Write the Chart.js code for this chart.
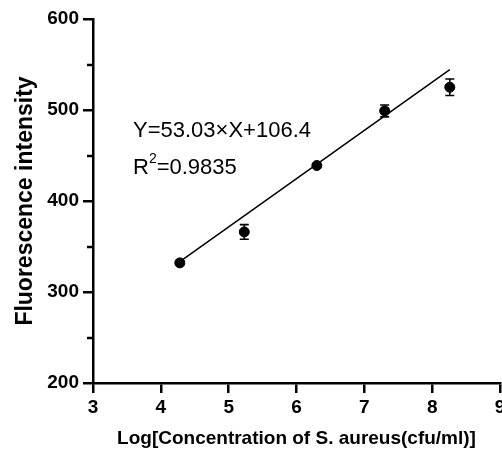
<!DOCTYPE html>
<html>
<head>
<meta charset="utf-8">
<script src="https://cdn.jsdelivr.net/npm/chart.js@4.4.1/dist/chart.umd.min.js"></script>
<style>
  html, body { margin: 0; padding: 0; background: #fff; overflow: hidden; }
  #wrap { width: 530px; height: 454px; }
</style>
</head>
<body>
<div id="wrap"><canvas id="myChart" width="530" height="454"></canvas></div>
<script>
// log concentration vs fluorescence, mean +/- error
var logConc = [4.28, 5.23, 6.30, 7.30, 8.26];
var fluor = [332, 366, 439, 499, 525];
var fluorErr = [2, 8, 2, 6.5, 9];

// linear fit
var fitSlope = 53.03;
var fitIntercept = 106.4;
var fitR2 = 0.9835;

var xTicks = [3, 4, 5, 6, 7, 8, 9];
var yTicks = [200, 300, 400, 500, 600];
var yMinorTicks = [250, 350, 450, 550];

var points = logConc.map(function (x, i) { return { x: x, y: fluor[i] }; });
var xFirst = logConc[0], xLast = logConc[logConc.length - 1];
var fitLine = [
    { x: xFirst, y: fitSlope * xFirst + fitIntercept },
    { x: xLast, y: fitSlope * xLast + fitIntercept }
];

var FONT = "'Liberation Sans', Arial, sans-serif";

var extras = {
    id: 'extras',
    afterDatasetsDraw: function (chart) {
        var ctx = chart.ctx, xs = chart.scales.x, ys = chart.scales.y;
        ctx.save();
        ctx.strokeStyle = '#000';
        ctx.lineWidth = 1.6;
        // error bars
        logConc.forEach(function (x, i) {
            var px = xs.getPixelForValue(x);
            var top = ys.getPixelForValue(fluor[i] + fluorErr[i]);
            var bot = ys.getPixelForValue(fluor[i] - fluorErr[i]);
            ctx.beginPath();
            ctx.moveTo(px, top); ctx.lineTo(px, bot);
            ctx.moveTo(px - 4.5, top); ctx.lineTo(px + 4.5, top);
            ctx.moveTo(px - 4.5, bot); ctx.lineTo(px + 4.5, bot);
            ctx.stroke();
        });
        // minor ticks on y
        ctx.lineWidth = 2.5;
        var left = chart.chartArea.left;
        yMinorTicks.forEach(function (v) {
            var py = Math.round(ys.getPixelForValue(v));
            ctx.beginPath();
            ctx.moveTo(left - 6, py); ctx.lineTo(left, py);
            ctx.stroke();
        });
        // equation text
        ctx.fillStyle = '#000';
        ctx.textBaseline = 'alphabetic';
        ctx.textAlign = 'left';
        ctx.font = '22px ' + FONT;
        ctx.fillText('Y=' + fitSlope.toFixed(2) + '\u00d7X+' + fitIntercept.toFixed(1), 133, 137);
        ctx.fillText('R', 133, 174);
        var rw = ctx.measureText('R').width;
        ctx.font = '14px ' + FONT;
        ctx.fillText('2', 133 + rw, 163);
        var sw = ctx.measureText('2').width;
        ctx.font = '22px ' + FONT;
        ctx.fillText('=' + fitR2.toFixed(4), 133 + rw + sw, 174);
        ctx.restore();
    }
};

var ctx = document.getElementById('myChart').getContext('2d');

var myChart = new Chart(ctx, {
    type: 'scatter',
    data: {
        datasets: [
            {
                type: 'line',
                data: fitLine,
                borderColor: '#000',
                borderWidth: 1.5,
                pointRadius: 0,
                fill: false,
                order: 2
            },
            {
                data: points,
                backgroundColor: '#000',
                borderColor: '#000',
                pointRadius: 5,
                order: 1
            }
        ]
    },
    options: {
        responsive: false,
        animation: false,
        layout: { padding: { top: 19, right: 30, left: 12, bottom: 2 } },
        plugins: {
            legend: { display: false },
            tooltip: { enabled: false }
        },
        scales: {
            x: {
                type: 'linear',
                min: 3,
                max: 9,
                afterBuildTicks: function (s) { s.ticks = xTicks.map(function (v) { return { value: v }; }); },
                afterFit: function (s) { s.height = 454 - 383 - 2; },
                border: { color: '#000', width: 2.5 },
                grid: { drawOnChartArea: false, drawTicks: true, tickLength: 10, tickColor: '#000', lineWidth: 2.5 },
                ticks: { color: '#000', padding: 3, maxRotation: 0, font: { family: FONT, size: 19, weight: 'bold' } },
                title: {
                    display: true,
                    text: 'Log[Concentration of S. aureus(cfu/ml)]',
                    color: '#000',
                    padding: { top: 8, bottom: 2 },
                    font: { family: FONT, size: 19, weight: 'bold' }
                }
            },
            y: {
                min: 200,
                max: 600,
                afterBuildTicks: function (s) { s.ticks = yTicks.map(function (v) { return { value: v }; }); },
                afterFit: function (s) { s.width = 93 - 12; },
                border: { color: '#000', width: 2.5 },
                grid: { drawOnChartArea: false, drawTicks: true, tickLength: 10, tickColor: '#000', lineWidth: 2.5 },
                ticks: { color: '#000', padding: 4, font: { family: FONT, size: 19, weight: 'bold' } },
                title: {
                    display: true,
                    text: 'Fluorescence intensity',
                    color: '#000',
                    padding: { top: 0, bottom: 8 },
                    font: { family: FONT, size: 23, weight: 'bold' }
                }
            }
        }
    },
    plugins: [extras]
});
</script>
</body>
</html>
